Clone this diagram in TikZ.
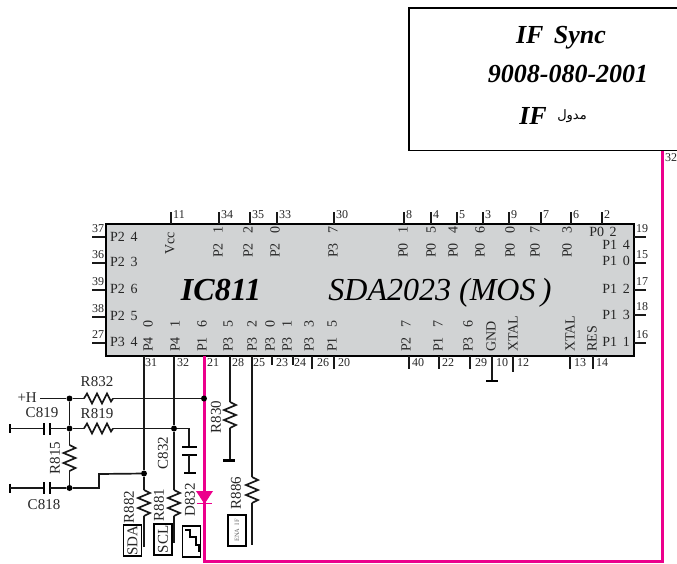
\documentclass[tikz,border=0pt]{standalone}
\usepackage{fontspec}
\setmainfont{Liberation Serif}
\newfontfamily\arabicfont[Script=Arabic]{DejaVu Sans}
\TeXXeTstate=1

\definecolor{hotpink}{HTML}{EC008C}
\definecolor{chipgray}{HTML}{D1D3D4}

\tikzset{
    wire/.style={line width=1.7pt, color=black!90},
    pinline/.style={line width=1.4pt, color=black!90},
    hot/.style={line width=3pt, color=hotpink},
    num/.style={font=\fontsize{12}{12}\selectfont, inner sep=0pt, color=black!85},
    pinname/.style={font=\fontsize{14}{14}\selectfont, inner sep=0pt, color=black!85},
    uplabel/.style={pinname, rotate=90, anchor=west},
    part/.style={font=\fontsize{15}{15}\selectfont, inner sep=0pt, color=black!85},
    tag/.style={draw, line width=1.4pt, minimum width=18pt, minimum height=31pt, inner sep=0pt},
    dot/.style={circle, fill=black, inner sep=0pt, minimum size=6pt},
    zagh/.pic={\draw[wire] (0,0) -- (3,-5) -- (8,5) -- (13,-5) -- (18,5) -- (23,-5) -- (27,3) -- (29,0);},
    zagv/.pic={\draw[wire] (0,0) -- (6,3) -- (-6,8) -- (6,13) -- (-6,18) -- (6,23) -- (0,26);}
}

\begin{document}
\begin{tikzpicture}[x=1pt,y=-1pt]

\def\gap{\hspace{0.65em}}
\def\gapi{\hspace{0.4em}}

\useasboundingbox (0,0) rectangle (677,563);

%IF box
\coordinate (ifa) at (677,8);
\coordinate (ifb) at (409,8);
\coordinate (ifc) at (409,150.5);
\coordinate (ifd) at (677,150.5);
\draw[line width=1.8pt] (ifa) -- (ifb) -- (ifc) -- (ifd);
\node (ifname) at (561,38) {\fontsize{26}{26}\selectfont\bfseries\itshape IF\hspace{0.4em}Sync};
\node (ifcode) at (568,74) {\fontsize{26}{26}\selectfont\bfseries\itshape 9008-080-2001};
\node (iflabel) at (533,116) {\fontsize{26}{26}\selectfont\bfseries\itshape IF};
\node (ifarab) at (572,116) {\fontsize{13}{13}\selectfont\arabicfont\beginR مدول\endR};

%chip
\node (ic) [draw, line width=2pt, fill=chipgray, minimum width=528pt, minimum height=132pt, inner sep=0pt] at (369.5,290) {};
\node (icname) at (221,290) {\fontsize{32}{32}\selectfont\bfseries\itshape IC811};
\node (icpart) at (440,293) {\fontsize{32}{32}\selectfont\itshape SDA2023 (MOS\,)};

%top pins
\foreach \n/\x in {11/171, 34/219, 35/250, 33/277, 30/334, 8/404, 4/431, 5/457, 3/483, 9/509, 7/541, 6/571, 2/602}{
    \coordinate (p\n) at (\x,224);
    \coordinate (q\n) at (\x,212);
    \draw[pinline] (p\n) -- (q\n);
    \node (n\n) [num, anchor=west] at (\x+2,215) {\n};
}

%left pins
\foreach \n/\y in {37/237, 36/263, 39/290, 38/317, 27/343}{
    \coordinate (p\n) at (105,\y);
    \coordinate (q\n) at (92,\y);
    \draw[pinline] (p\n) -- (q\n);
    \node (n\n) [num] at (98,\y-8) {\n};
}

%right pins
\foreach \n/\y in {19/237, 15/263, 17/290, 18/315, 16/343}{
    \coordinate (p\n) at (634,\y);
    \coordinate (q\n) at (646,\y);
    \draw[pinline] (p\n) -- (q\n);
    \node (n\n) [num] at (642,\y-8) {\n};
}

%bottom pins
\foreach \n/\x/\e in {23/272/365, 24/293/365, 26/312/369, 20/334/369, 40/409/369, 22/439/369, 29/470/369, 13/570/369, 14/593/369}{
    \coordinate (p\n) at (\x,356);
    \coordinate (q\n) at (\x,\e);
    \draw[pinline] (p\n) -- (q\n);
}
\foreach \n/\x in {31/151, 32/183, 21/213, 28/238, 25/259, 23/282, 24/300, 26/323, 20/344, 40/418, 22/448, 29/481, 10/502, 12/523, 13/580, 14/602}{
    \node (n\n) [num] at (\x,363) {\n};
}

%pin names
\foreach \i/\y/\lab in {a/237/4, b/262/3, c/289/6, d/316/5}{
    \node (l\i) [pinname, anchor=west] at (110,\y) {P2\gapi\lab};
}
\node (le) [pinname, anchor=west] at (110,342) {P3\gapi 4};
\foreach \i/\y/\lab in {a/245/4, b/261/0, c/289/2, d/315/3, e/342/1}{
    \node (r\i) [pinname, anchor=east] at (630,\y) {P1\gapi\lab};
}
\node (rf) [pinname] at (603,232) {P0\gapi 2};

\node (tvcc) [uplabel] at (170,255) {Vcc};
\foreach \i/\x/\lab in {a/218/P2\gap 1, b/248/P2\gap 2, c/275/P2\gap 0, d/333/P3\gap 7, e/403/P0\gap 1, f/431/P0\gap 5, g/453/P0\gap 4, h/480/P0\gap 6, i/510/P0\gap 0, j/535/P0\gap 7, k/567/P0\gap 3}{
    \node (t\i) [uplabel] at (\x,258) {\lab};
}
\foreach \i/\x/\lab in {a/148/P4\gap 0, b/175/P4\gap 1, c/202/P1\gap 6, d/228/P3\gap 5, e/252/P3\gap 2, f/270/P3\gap 0, g/287/P3\gap 1, h/309/P3\gap 3, j/332/P1\gap 5, k/406/P2\gap 7, l/438/P1\gap 7, m/468/P3\gap 6, n/491/GND, o/513/XTAL, p/570/XTAL, q/592/RES}{
    \node (b\i) [uplabel] at (\x,352) {\lab};
}

%pink line
\coordinate (p21) at (204,356);
\coordinate (d1) at (204,503);
\coordinate (m1) at (204,561);
\coordinate (m2) at (662,561);
\coordinate (p32) at (662,151);
\draw[hot, line join=miter] (p21) -- (m1) -- (m2) -- (p32);
\fill[hotpink] (196,491) -- (213,491) -- (204.5,504) -- cycle;
\draw[hotpink, line width=1.2pt] (197,503.5) -- (212,503.5);
\node (n32b) [num] at (671,158) {32};

%ground and crystal pins
\coordinate (p10) at (492,356);
\coordinate (g10) at (492,381);
\coordinate (p12) at (513,356);
\coordinate (q12) at (513,372);
\draw[wire] (p10) -- (g10);
\draw[line width=2.4pt] (486,381) -- (498,381);
\draw[pinline] (p12) -- (q12);

%input network
\node (hplus) [part, anchor=east] at (37,398) {+H};
\coordinate (hin) at (40,398.5);
\node (j1) [dot] at (69.5,398.5) {};
\node (j2) [dot] at (204,398.5) {};
\node (j3) [dot] at (69.5,428.5) {};
\node (j4) [dot] at (174,428.5) {};
\node (j5) [dot] at (69.5,488) {};
\node (j6) [dot] at (144,473.5) {};

\coordinate (r832a) at (84,398.5);
\coordinate (r832b) at (113,398.5);
\draw[wire] (hin) -- (j1) -- (r832a);
\pic at (r832a) {zagh};
\draw[wire] (r832b) -- (j2);

\coordinate (t819) at (10,428.5);
\coordinate (c819a) at (44,428.5);
\coordinate (c819b) at (50,428.5);
\coordinate (r819a) at (84,428.5);
\coordinate (r819b) at (113,428.5);
\coordinate (k1) at (189,428.5);
\coordinate (c832a) at (189,447);
\coordinate (c832b) at (189,455);
\coordinate (g832) at (189,473);
\draw[line width=2.4pt] (10,424) -- (10,433);
\draw[wire] (t819) -- (c819a);
\draw[line width=2pt] (44,423) -- (44,435);
\draw[line width=2pt] (50,423) -- (50,435);
\draw[wire] (c819b) -- (j3) -- (r819a);
\pic at (r819a) {zagh};
\draw[wire] (r819b) -- (j4) -- (k1) -- (c832a);
\draw[line width=2pt] (182,447) -- (197,447);
\draw[line width=2pt] (182,455) -- (197,455);
\draw[wire] (c832b) -- (g832);
\draw[line width=2.4pt] (184,473) -- (196,473);

\coordinate (r815a) at (69.5,445);
\coordinate (r815b) at (69.5,471);
\draw[wire] (j1) -- (j3) -- (r815a);
\pic at (r815a) {zagv};
\draw[wire] (r815b) -- (j5);

\coordinate (t818) at (10,488);
\coordinate (c818a) at (44,488);
\coordinate (c818b) at (50,488);
\coordinate (k2) at (99,488);
\coordinate (k3) at (99,474);
\draw[line width=2.4pt] (10,483.5) -- (10,492.5);
\draw[wire] (t818) -- (c818a);
\draw[line width=2pt] (44,482) -- (44,494);
\draw[line width=2pt] (50,482) -- (50,494);
\draw[wire] (c818b) -- (j5) -- (k2) -- (k3) -- (j6);

%resistors below the chip
\coordinate (p31) at (144,356);
\coordinate (r882a) at (144,490);
\coordinate (r882b) at (144,516);
\coordinate (e882) at (144,547);
\draw[wire] (p31) -- (j6) -- (r882a);
\pic at (r882a) {zagv};
\draw[wire] (r882b) -- (e882);

\coordinate (p32b) at (174,356);
\coordinate (r881a) at (174,490);
\coordinate (r881b) at (174,516);
\coordinate (e881) at (174,543);
\draw[wire] (p32b) -- (j4) -- (r881a);
\pic at (r881a) {zagv};
\draw[wire] (r881b) -- (e881);

\coordinate (p28) at (230,356);
\coordinate (r830a) at (230,402);
\coordinate (r830b) at (230,428);
\coordinate (g830) at (230,460);
\draw[wire] (p28) -- (r830a);
\pic at (r830a) {zagv};
\draw[wire] (r830b) -- (g830);
\draw[line width=2.4pt] (223,460.5) -- (235,460.5);

\coordinate (p25) at (252,356);
\coordinate (r886a) at (252,477);
\coordinate (r886b) at (252,503);
\coordinate (e886) at (252,545);
\draw[wire] (p25) -- (r886a);
\pic at (r886a) {zagv};
\draw[wire] (r886b) -- (e886);

%part names
\node (r832) [part] at (97,382) {R832};
\node (r819) [part] at (97,414) {R819};
\node (c819) [part] at (42,413) {C819};
\node (c818) [part] at (44,505) {C818};
\node (r815) [part, rotate=90] at (55,458) {R815};
\node (r882) [part, rotate=90] at (129,507) {R882};
\node (r881) [part, rotate=90] at (159,505) {R881};
\node (c832) [part, rotate=90] at (163,453) {C832};
\node (d832) [part, rotate=90] at (190,500) {D832};
\node (r830) [part, rotate=90] at (216,417) {R830};
\node (r886) [part, rotate=90] at (236,493) {R886};

%tags
\node (sda) [tag] at (132.5,540.5) {};
\node (sdat) [part, rotate=90] at (sda) {SDA};
\node (scl) [tag] at (163,539.5) {};
\node (sclt) [part, rotate=90] at (scl) {SCL};
\node (ena) [tag] at (237,530.5) {};
\node (enat) [font=\fontsize{6.5}{7}\selectfont, inner sep=0pt, rotate=90, color=black!60] at (ena) {ENA\hspace{0.5em}IF};
\node (stair) [tag] at (191.5,541.5) {};
\draw[line width=1.4pt] (185,530) -- (190,530) -- (190,537) -- (196,537) -- (196,545) -- (199,545) -- (199,552);

\end{tikzpicture}
\end{document}
